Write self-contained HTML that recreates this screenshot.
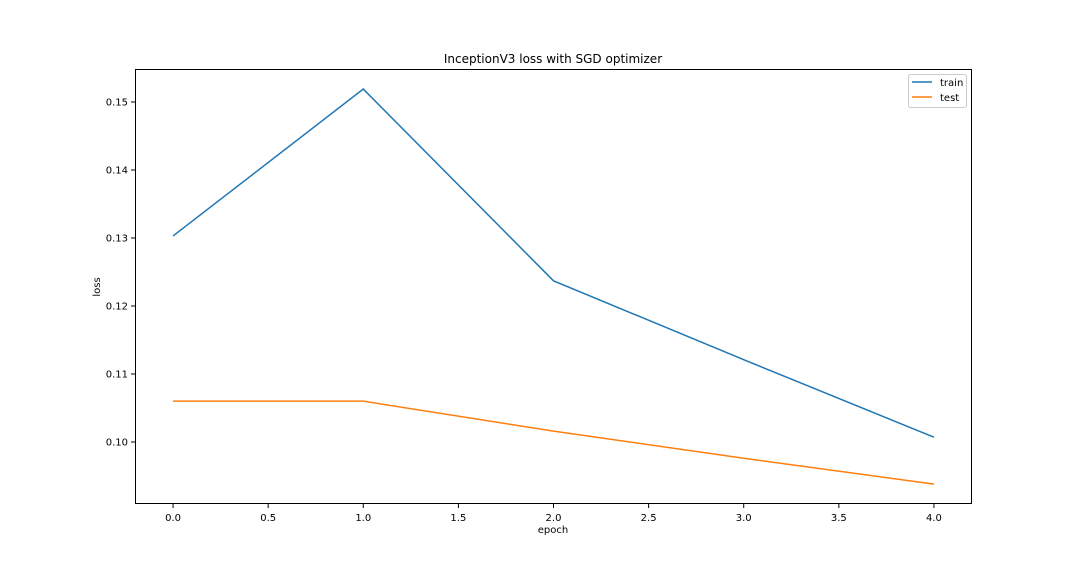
<!DOCTYPE html>
<html><head><meta charset="utf-8"><style>
body{margin:0;background:#fff;}
svg{display:block;font-family:"DejaVu Sans","Liberation Sans",sans-serif;}
</style></head><body>
<svg id="chart" width="1080" height="576">
<rect width="1080" height="576" fill="#fff"/>
<text x="553" y="63" font-size="12" text-anchor="middle">InceptionV3 loss with SGD optimizer</text>
<g id="axes"></g>
<rect x="135.5" y="69.5" width="836" height="434" fill="none" stroke="#000" stroke-width="1"/>
<text x="553" y="533" font-size="10" text-anchor="middle">epoch</text>
<text transform="translate(100,287) rotate(-90)" font-size="10" text-anchor="middle">loss</text>
<g>
<rect x="908.5" y="74.5" width="58" height="33" rx="2" fill="#fff" stroke="#ccc"/>
<line x1="912" y1="82" x2="932" y2="82" stroke="#1f77b4" stroke-width="1.5"/>
<text x="940" y="86" font-size="10">train</text>
<line x1="912" y1="97" x2="932" y2="97" stroke="#ff7f0e" stroke-width="1.5"/>
<text x="940" y="101" font-size="10">test</text>
</g>
</svg>
<script>
const epochs=[0,1,2,3,4];
const trainLoss=[0.1303,0.1519,0.1237,0.1121,0.1007];
const testLoss=[0.1060,0.1060,0.1016,0.0976,0.0938];
const xTicks=[0,0.5,1,1.5,2,2.5,3,3.5,4];
const yTicks=[0.10,0.11,0.12,0.13,0.14,0.15];
const NS="http://www.w3.org/2000/svg";
const L=135,R=972,T=69,B=504;
const xMin=-0.2,xMax=4.2,yMin=0.09088,yMax=0.15485;
const sx=v=>L+(v-xMin)/(xMax-xMin)*(R-L);
const sy=v=>B-(v-yMin)/(yMax-yMin)*(B-T);
const g=document.getElementById('axes');
function mk(t,a){const e=document.createElementNS(NS,t);for(const k in a)e.setAttribute(k,a[k]);g.appendChild(e);return e;}
xTicks.forEach(v=>{const x=sx(v);
const l=mk('line',{x1:x,y1:B,x2:x,y2:B+4,stroke:'#000'});


const t=mk('text',{x:x,y:B+17,'font-size':10,'text-anchor':'middle'});t.textContent=v.toFixed(1);

});
yTicks.forEach(v=>{const y=sy(v);
const l=mk('line',{x1:L-4,y1:y,x2:L,y2:y,stroke:'#000'});


const t=mk('text',{x:L-7,y:y+3.5,'font-size':10,'text-anchor':'end'});t.textContent=v.toFixed(2);

});
function line(vals,color,name){const p=mk('polyline',{points:epochs.map((e,i)=>sx(e)+','+sy(vals[i])).join(' '),fill:'none',stroke:color,'stroke-width':1.5});

}
line(trainLoss,'#1f77b4','train-line');
line(testLoss,'#ff7f0e','test-line');
</script>
</body></html>
